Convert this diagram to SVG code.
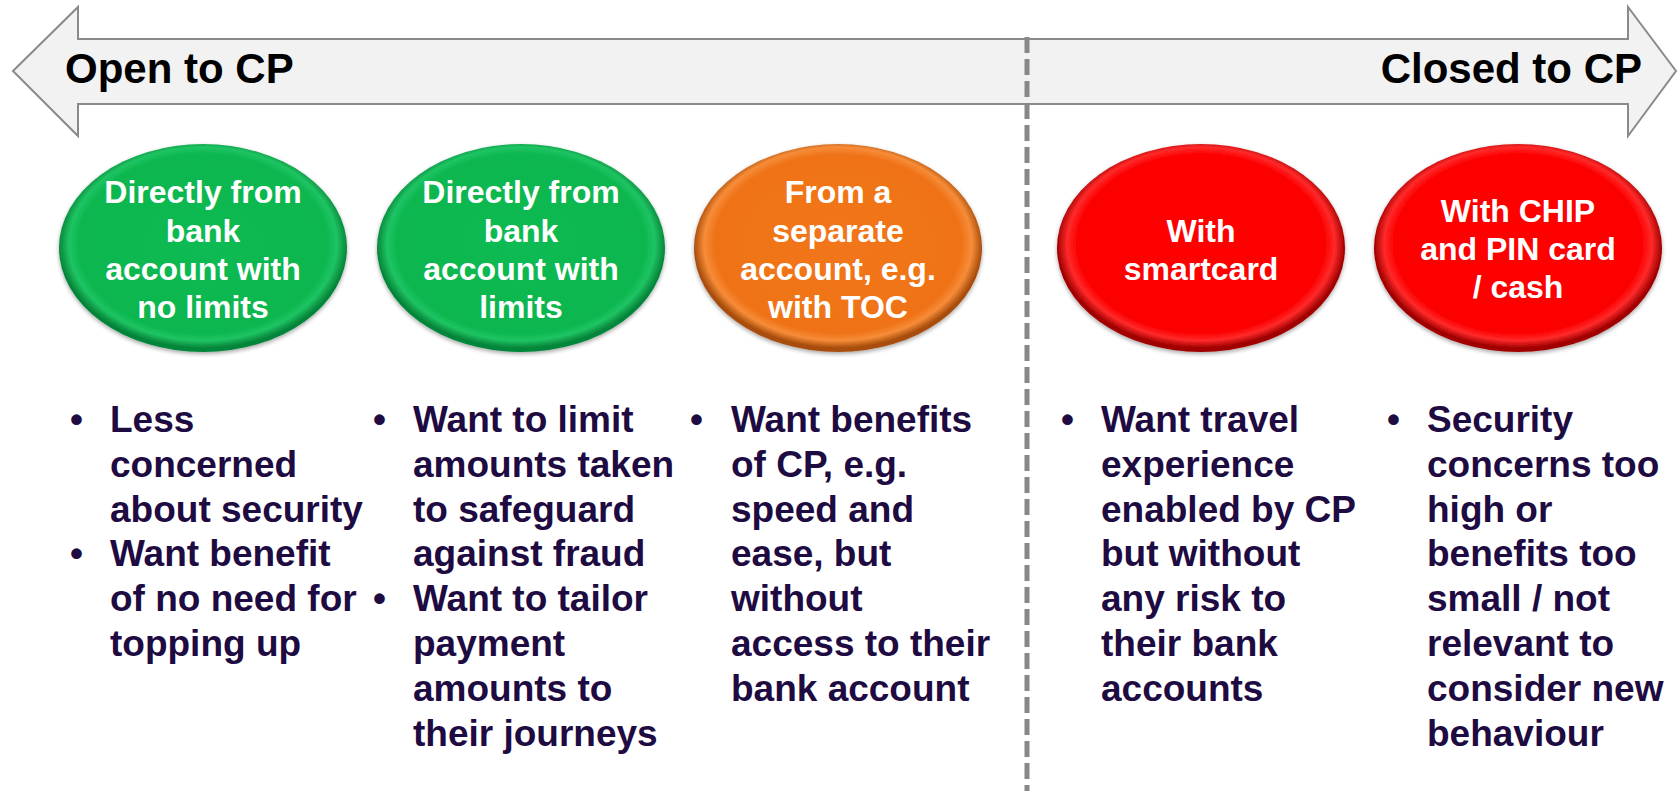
<svg xmlns="http://www.w3.org/2000/svg" width="1678" height="791" viewBox="0 0 1678 791">
<defs>
<radialGradient id="gG" cx="50%" cy="48%" r="50%">
<stop offset="0" stop-color="#0BBA52"/>
<stop offset="0.86" stop-color="#0AB64F"/>
<stop offset="0.93" stop-color="#1FC463"/>
<stop offset="1" stop-color="#06863A"/>
</radialGradient>
<radialGradient id="gO" cx="50%" cy="48%" r="50%">
<stop offset="0" stop-color="#F2761A"/>
<stop offset="0.86" stop-color="#EF7318"/>
<stop offset="0.93" stop-color="#F78C38"/>
<stop offset="1" stop-color="#A84E0C"/>
</radialGradient>
<radialGradient id="gR" cx="50%" cy="48%" r="50%">
<stop offset="0" stop-color="#FF0000"/>
<stop offset="0.86" stop-color="#FC0000"/>
<stop offset="0.93" stop-color="#FF2A2A"/>
<stop offset="1" stop-color="#A00000"/>
</radialGradient>
<filter id="sh" x="-10%" y="-10%" width="120%" height="125%">
<feGaussianBlur in="SourceAlpha" stdDeviation="2"/>
<feOffset dy="2" result="b"/>
<feComponentTransfer><feFuncA type="linear" slope="0.35"/></feComponentTransfer>
<feMerge><feMergeNode/><feMergeNode in="SourceGraphic"/></feMerge>
</filter>
</defs>
<style>
.ax{fill:#F2F2F2;stroke:#8A8A8A;stroke-width:2}
.axt{font-family:"Liberation Sans",Arial,sans-serif;font-weight:bold;font-size:42px;fill:#000}
.et{font-family:"Liberation Sans",Arial,sans-serif;font-weight:bold;font-size:32px;fill:#FFF;text-anchor:middle}
.bt{font-family:"Liberation Sans",Arial,sans-serif;font-weight:bold;font-size:37px;fill:#1E0B42}
.div{stroke:#888;stroke-width:5;stroke-dasharray:16 6;fill:none}
</style>
<rect width="1678" height="791" fill="#FFF"/>
<g id="axis">
<path class="ax" d="M13,71 L78,7 L78,39 L1628,39 L1628,7 L1676,71 L1628,136 L1628,104 L78,104 L78,136 Z"/>
<text class="axt" x="65" y="83">Open to CP</text>
<text class="axt" x="1642" y="83" text-anchor="end">Closed to CP</text>
</g>
<g id="connectors">
<line class="div" x1="1027" y1="37" x2="1027" y2="791"/>
</g>
<g id="n1">
<ellipse cx="203" cy="248" rx="144" ry="104" fill="url(#gG)" filter="url(#sh)"/>
<text class="et"><tspan x="203" y="203">Directly from</tspan><tspan x="203" y="242">bank</tspan><tspan x="203" y="280">account with</tspan><tspan x="203" y="318">no limits</tspan></text>
</g>
<g id="n2">
<ellipse cx="521" cy="248" rx="144" ry="104" fill="url(#gG)" filter="url(#sh)"/>
<text class="et"><tspan x="521" y="203">Directly from</tspan><tspan x="521" y="242">bank</tspan><tspan x="521" y="280">account with</tspan><tspan x="521" y="318">limits</tspan></text>
</g>
<g id="n3">
<ellipse cx="838" cy="248" rx="144" ry="104" fill="url(#gO)" filter="url(#sh)"/>
<text class="et"><tspan x="838" y="203">From a</tspan><tspan x="838" y="242">separate</tspan><tspan x="838" y="280">account, e.g.</tspan><tspan x="838" y="318">with TOC</tspan></text>
</g>
<g id="n4">
<ellipse cx="1201" cy="248" rx="144" ry="104" fill="url(#gR)" filter="url(#sh)"/>
<text class="et"><tspan x="1201" y="242">With</tspan><tspan x="1201" y="280">smartcard</tspan></text>
</g>
<g id="n5">
<ellipse cx="1518" cy="248" rx="144" ry="104" fill="url(#gR)" filter="url(#sh)"/>
<text class="et"><tspan x="1518" y="222">With CHIP</tspan><tspan x="1518" y="260">and PIN card</tspan><tspan x="1518" y="298">/ cash</tspan></text>
</g>
<g id="b1">
<text class="bt"><tspan x="70" y="432">•</tspan><tspan x="70" y="566">•</tspan></text>
<text class="bt"><tspan x="110" y="432">Less</tspan><tspan x="110" y="477">concerned</tspan><tspan x="110" y="522">about security</tspan><tspan x="110" y="566">Want benefit</tspan><tspan x="110" y="611">of no need for</tspan><tspan x="110" y="656">topping up</tspan></text>
</g>
<g id="b2">
<text class="bt"><tspan x="373" y="432">•</tspan><tspan x="373" y="611">•</tspan></text>
<text class="bt"><tspan x="413" y="432">Want to limit</tspan><tspan x="413" y="477">amounts taken</tspan><tspan x="413" y="522">to safeguard</tspan><tspan x="413" y="566">against fraud</tspan><tspan x="413" y="611">Want to tailor</tspan><tspan x="413" y="656">payment</tspan><tspan x="413" y="701">amounts to</tspan><tspan x="413" y="746">their journeys</tspan></text>
</g>
<g id="b3">
<text class="bt"><tspan x="690" y="432">•</tspan></text>
<text class="bt"><tspan x="731" y="432">Want benefits</tspan><tspan x="731" y="477">of CP, e.g.</tspan><tspan x="731" y="522">speed and</tspan><tspan x="731" y="566">ease, but</tspan><tspan x="731" y="611">without</tspan><tspan x="731" y="656">access to their</tspan><tspan x="731" y="701">bank account</tspan></text>
</g>
<g id="b4">
<text class="bt"><tspan x="1061" y="432">•</tspan></text>
<text class="bt"><tspan x="1101" y="432">Want travel</tspan><tspan x="1101" y="477">experience</tspan><tspan x="1101" y="522">enabled by CP</tspan><tspan x="1101" y="566">but without</tspan><tspan x="1101" y="611">any risk to</tspan><tspan x="1101" y="656">their bank</tspan><tspan x="1101" y="701">accounts</tspan></text>
</g>
<g id="b5">
<text class="bt"><tspan x="1387" y="432">•</tspan></text>
<text class="bt"><tspan x="1427" y="432">Security</tspan><tspan x="1427" y="477">concerns too</tspan><tspan x="1427" y="522">high or</tspan><tspan x="1427" y="566">benefits too</tspan><tspan x="1427" y="611">small / not</tspan><tspan x="1427" y="656">relevant to</tspan><tspan x="1427" y="701">consider new</tspan><tspan x="1427" y="746">behaviour</tspan></text>
</g>
</svg>
